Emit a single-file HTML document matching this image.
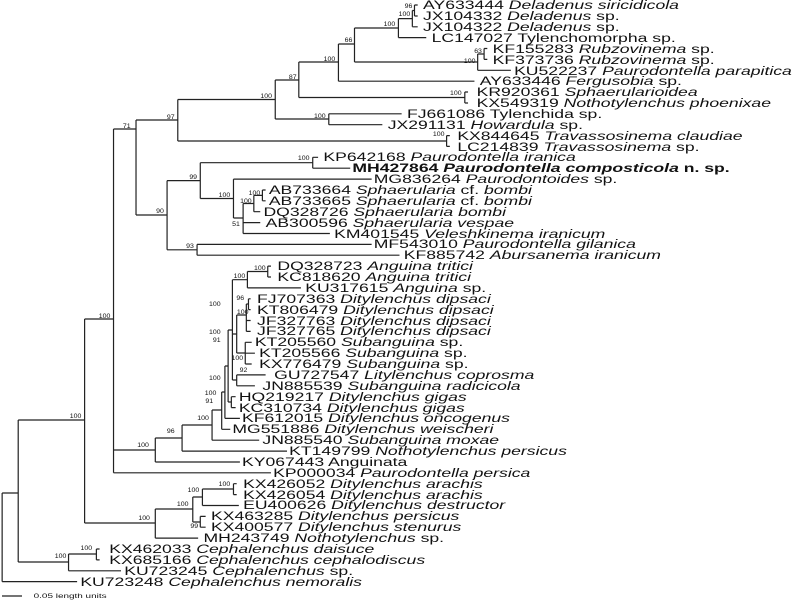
<!DOCTYPE html>
<html><head><meta charset="utf-8"><style>
html,body{margin:0;padding:0;background:#fff;}
svg{display:block}
text{font-family:"Liberation Sans",Arial,sans-serif;fill:#111}
.t{font-size:11.5px}
.b{font-size:6.5px}
.i{font-style:italic}
</style></head><body>
<svg width="800" height="600" viewBox="0 0 800 600" xmlns="http://www.w3.org/2000/svg">
<g transform="scale(1.071 1)">
<g stroke="#222" stroke-width="1.2" fill="none">
<path vector-effect="non-scaling-stroke" d="
M387 5V16 M387 5H390 M387 16H390
M385 10.5V26.8 M385 10.5H387 M385 26.8H390
M372 18.6V37.6 M372 18.6H385 M372 37.6H398
M452 48.5V59.4 M452 48.5H455 M452 59.4H455
M446 54V70.3 M446 54H452 M446 70.3H477
M331 28V62 M331 28H372 M331 62H446
M316 44V81.2 M316 44H331 M316 81.2H443
M434 92V103 M434 92H437 M434 103H437
M279 62V97.5 M279 62H316 M279 97.5H434
M307 113.8V124.7 M307 113.8H375 M307 124.7H357
M257 80V119 M257 80H279 M257 119H307
M417 135.6V146.4 M417 135.6H420 M417 146.4H420
M166 99.5V141 M166 99.5H257 M166 141H417
M292 157.3V168.2 M292 157.3H297 M292 168.2H327
M245 190V200.8 M245 190H248 M245 200.8H248
M237 195.4V211.7 M237 195.4H245 M237 211.7H243
M227 203.5V233.5 M227 203.5H237 M227 222.6H243 M227 233.5H308
M218 179.1V218 M218 179.1H347 M218 218H227
M187 162.7V198.5 M187 162.7H292 M187 198.5H218
M184 244.4V255.2 M184 244.4H347 M184 255.2H373
M156 180.6V249.8 M156 180.6H187 M156 249.8H184
M127 120V215 M127 120H166 M127 215H156
M250 266.1V277 M250 266.1H253 M250 277H253
M231 271.5V287.9 M231 271.5H250 M231 287.9H281
M232 298.8V309.6 M232 298.8H234 M232 309.6H234
M230 304V331.4 M230 304H232 M230 320.5H234 M230 331.4H234
M229 342.3V364 M229 342.3H235 M229 353.2H238 M229 364H235
M221 315V353 M221 315H230 M221 353H229
M221 374.9V385.8 M221 374.9H248 M221 385.8H238
M217 279.7V380 M217 279.7H231 M217 334H221 M217 380H221
M216 396.7V407.6 M216 396.7H220 M216 407.6H220
M213 330V402 M213 330H217 M213 402H216
M210 366V418.4 M210 366H213 M210 418.4H224
M207 392V429.3 M207 392H210 M207 429.3H215
M198 410V440.2 M198 410H207 M198 440.2H242
M170 425V451.1 M170 425H198 M170 451.1H268
M145 438V462 M145 438H170 M145 462H224
M106 129V472.8 M106 129H127 M106 450H145 M106 472.8H253
M218 483.7V494.6 M218 483.7H221 M218 494.6H221
M189 489V505.5 M189 489H218 M189 505.5H223
M187 516.4V527.2 M187 516.4H192 M187 527.2H192
M180 497V522 M180 497H189 M180 522H187
M145 509V538.1 M145 509H180 M145 538.1H185
M79 319V523 M79 319H106 M79 523H145
M90 549V559.9 M90 549H93 M90 559.9H93
M64 554V570.8 M64 554H90 M64 570.8H113
M17 420V562 M17 420H79 M17 562H64
M2 493V581.6 M2 493H17 M2 581.6H72
"/>
</g>
<g class="b" text-anchor="end">
<text x="385" y="8">96</text>
<text x="383" y="16">100</text>
<text x="369" y="26">100</text>
<text x="450" y="53">63</text>
<text x="444" y="63">100</text>
<text x="329" y="42">66</text>
<text x="313" y="61">100</text>
<text x="277" y="79">87</text>
<text x="431" y="95">100</text>
<text x="254" y="98">100</text>
<text x="304" y="118">100</text>
<text x="163" y="119">97</text>
<text x="415" y="136">100</text>
<text x="122" y="128">71</text>
<text x="289" y="160">100</text>
<text x="184" y="179">99</text>
<text x="215" y="197">100</text>
<text x="243" y="195">100</text>
<text x="235" y="203">100</text>
<text x="224" y="226">51</text>
<text x="153" y="213">90</text>
<text x="181" y="248">93</text>
<text x="248" y="270">100</text>
<text x="229" y="278">100</text>
<text x="206" y="306">100</text>
<text x="228" y="300">96</text>
<text x="232" y="314">100</text>
<text x="206" y="334">100</text>
<text x="206" y="342">91</text>
<text x="227" y="360">100</text>
<text x="231" y="372">92</text>
<text x="206" y="380">100</text>
<text x="202" y="395">100</text>
<text x="199" y="403">91</text>
<text x="195" y="420">100</text>
<text x="163" y="433">96</text>
<text x="139" y="447">100</text>
<text x="103" y="318">100</text>
<text x="215" y="486">100</text>
<text x="186" y="492">100</text>
<text x="176" y="506">100</text>
<text x="185" y="528">99</text>
<text x="140" y="520">100</text>
<text x="76" y="418">100</text>
<text x="86" y="550">100</text>
<text x="62" y="558">100</text>
</g>
</g>
<path d="M2 596H22" stroke="#222" stroke-width="1.2"/>
<g transform="scale(1.53 1)" class="t">
<text x="276.5" y="9">AY633444 <tspan class="i">Deladenus siricidicola</tspan></text>
<text x="276.5" y="20">JX104332 <tspan class="i">Deladenus</tspan> sp.</text>
<text x="276.5" y="31">JX104322 <tspan class="i">Deladenus</tspan> sp.</text>
<text x="282.1" y="42">LC147027 Tylenchomorpha sp.</text>
<text x="322" y="53">KF155283 <tspan class="i">Rubzovinema</tspan> sp.</text>
<text x="322" y="64">KF373736 <tspan class="i">Rubzovinema</tspan> sp.</text>
<text x="336" y="75">KU522237 <tspan class="i">Paurodontella parapitica</tspan></text>
<text x="313.6" y="85">AY633446 <tspan class="i">Fergusobia</tspan> sp.</text>
<text x="311.5" y="96">KR920361 <tspan class="i">Sphaerularioidea</tspan></text>
<text x="311.5" y="107">KX549319 <tspan class="i">Nothotylenchus phoenixae</tspan></text>
<text x="266" y="118">FJ661086 Tylenchida sp.</text>
<text x="253.4" y="129">JX291131 <tspan class="i">Howardula</tspan> sp.</text>
<text x="298.9" y="140">KX844645 <tspan class="i">Travassosinema claudiae</tspan></text>
<text x="298.9" y="151">LC214839 <tspan class="i">Travassosinema</tspan> sp.</text>
<text x="211.4" y="161">KP642168 <tspan class="i">Paurodontella iranica</tspan></text>
<text x="230.3" y="172" font-weight="bold">MH427864 <tspan class="i">Paurodontella composticola</tspan> n. sp.</text>
<text x="244.3" y="183">MG836264 <tspan class="i">Paurodontoides</tspan> sp.</text>
<text x="175.7" y="194">AB733664 <tspan class="i">Sphaerularia</tspan> cf. <tspan class="i">bombi</tspan></text>
<text x="175.7" y="205">AB733665 <tspan class="i">Sphaerularia</tspan> cf. <tspan class="i">bombi</tspan></text>
<text x="172.2" y="216">DQ328726 <tspan class="i">Sphaerularia bombi</tspan></text>
<text x="173.6" y="227">AB300596 <tspan class="i">Sphaerularia vespae</tspan></text>
<text x="218.4" y="238">KM401545 <tspan class="i">Veleshkinema iranicum</tspan></text>
<text x="244.3" y="248">MF543010 <tspan class="i">Paurodontella gilanica</tspan></text>
<text x="263.9" y="259">KF885742 <tspan class="i">Abursanema iranicum</tspan></text>
<text x="181.3" y="270">DQ328723 <tspan class="i">Anguina tritici</tspan></text>
<text x="181.3" y="281">KC818620 <tspan class="i">Anguina tritici</tspan></text>
<text x="199.5" y="292">KU317615 <tspan class="i">Anguina</tspan> sp.</text>
<text x="168" y="303">FJ707363 <tspan class="i">Ditylenchus dipsaci</tspan></text>
<text x="168" y="314">KT806479 <tspan class="i">Ditylenchus dipsaci</tspan></text>
<text x="168" y="325">JF327763 <tspan class="i">Ditylenchus dipsaci</tspan></text>
<text x="168" y="335">JF327765 <tspan class="i">Ditylenchus dipsaci</tspan></text>
<text x="166.6" y="346">KT205560 <tspan class="i">Subanguina</tspan> sp.</text>
<text x="169.4" y="357">KT205566 <tspan class="i">Subanguina</tspan> sp.</text>
<text x="169.4" y="368">KX776479 <tspan class="i">Subanguina</tspan> sp.</text>
<text x="179.2" y="379">GU727547 <tspan class="i">Litylenchus coprosma</tspan></text>
<text x="171.5" y="390">JN885539 <tspan class="i">Subanguina radicicola</tspan></text>
<text x="156.1" y="401">HQ219217 <tspan class="i">Ditylenchus gigas</tspan></text>
<text x="156.1" y="412">KC310734 <tspan class="i">Ditylenchus gigas</tspan></text>
<text x="158.2" y="422">KF612015 <tspan class="i">Ditylenchus oncogenus</tspan></text>
<text x="151.9" y="433">MG551886 <tspan class="i">Ditylenchus weischeri</tspan></text>
<text x="171.5" y="444">JN885540 <tspan class="i">Subanguina moxae</tspan></text>
<text x="189" y="455">KT149799 <tspan class="i">Nothotylenchus persicus</tspan></text>
<text x="158.2" y="466">KY067443 Anguinata</text>
<text x="178.5" y="477">KP000034 <tspan class="i">Paurodontella persica</tspan></text>
<text x="158.9" y="488">KX426052 <tspan class="i">Ditylenchus arachis</tspan></text>
<text x="158.9" y="499">KX426054 <tspan class="i">Ditylenchus arachis</tspan></text>
<text x="158.9" y="509">EU400626 <tspan class="i">Ditylenchus destructor</tspan></text>
<text x="137.9" y="520">KX463285 <tspan class="i">Ditylenchus persicus</tspan></text>
<text x="137.9" y="531">KX400577 <tspan class="i">Ditylenchus stenurus</tspan></text>
<text x="133" y="542">MH243749 <tspan class="i">Nothotylenchus</tspan> sp.</text>
<text x="71.4" y="553">KX462033 <tspan class="i">Cephalenchus daisuce</tspan></text>
<text x="71.4" y="564">KX685166 <tspan class="i">Cephalenchus cephalodiscus</tspan></text>
<text x="81.2" y="575">KU723245 <tspan class="i">Cephalenchus</tspan> sp.</text>
<text x="52.5" y="586">KU723248 <tspan class="i">Cephalenchus nemoralis</tspan></text>
<text x="22" y="598" style="font-size:6.5px">0.05 length units</text>
</g>
</svg>
</body></html>
